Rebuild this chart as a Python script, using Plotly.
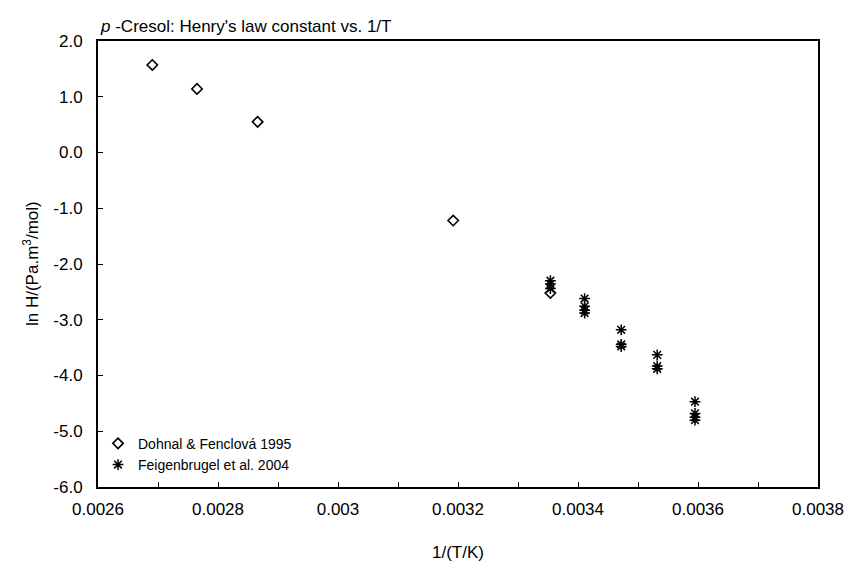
import plotly.graph_objects as go

# Dohnal & Fenclová 1995
dohnal_x = [0.0026905, 0.002765, 0.002866, 0.003192, 0.003354]
dohnal_y = [1.57, 1.14, 0.55, -1.22, -2.52]

# Feigenbrugel et al. 2004
feig_x = [0.003354, 0.003354, 0.003354,
          0.003411, 0.003411, 0.003411, 0.003411,
          0.003472, 0.003472, 0.003472,
          0.003532, 0.003532, 0.003532,
          0.003595, 0.003595, 0.003595, 0.003595]
feig_y = [-2.30, -2.36, -2.44,
          -2.62, -2.76, -2.83, -2.88,
          -3.18, -3.44, -3.48,
          -3.63, -3.83, -3.88,
          -4.47, -4.68, -4.75, -4.80]

x_ticks = [0.0026, 0.0028, 0.003, 0.0032, 0.0034, 0.0036, 0.0038]
x_tick_labels = ["0.0026", "0.0028", "0.003", "0.0032", "0.0034", "0.0036", "0.0038"]
y_ticks = [2, 1, 0, -1, -2, -3, -4, -5, -6]
y_tick_labels = ["2.0", "1.0", "0.0", "-1.0", "-2.0", "-3.0", "-4.0", "-5.0", "-6.0"]

FONT = "Liberation Sans, Arial, sans-serif"

fig = go.Figure()
fig.add_trace(go.Scatter(
    x=dohnal_x, y=dohnal_y, mode="markers", name="Dohnal & Fenclová 1995",
    marker=dict(symbol="diamond-open", size=8, color="black", line=dict(width=1.6, color="black")),
))
fig.add_trace(go.Scatter(
    x=feig_x, y=feig_y, mode="markers", name="Feigenbrugel et al. 2004",
    marker=dict(symbol="asterisk-open", size=9, color="black", line=dict(width=1.5, color="black")),
))

fig.update_layout(
    width=847, height=557,
    margin=dict(l=90, r=37, t=33, b=78, autoexpand=False),
    paper_bgcolor="white", plot_bgcolor="white",
    font=dict(family=FONT, size=17, color="black"),
    showlegend=True,
    legend=dict(x=0.0, y=0.014, xanchor="left", yanchor="bottom",
                bgcolor="rgba(0,0,0,0)", font=dict(size=14, family=FONT),
                itemwidth=30, tracegroupgap=0),
    annotations=[
        dict(text="<i>p</i> -Cresol: Henry's law constant vs. 1/T",
             xref="paper", yref="paper", x=0, y=1, xanchor="left", yanchor="bottom",
             yshift=3, showarrow=False, font=dict(size=17, family=FONT)),
        dict(text="1/(T/K)", xref="paper", yref="paper", x=0.5, y=0,
             xanchor="center", yanchor="middle", yshift=-65, showarrow=False,
             font=dict(size=17, family=FONT)),
        dict(text="ln H/(Pa.m<sup>3</sup>/mol)", xref="paper", yref="paper", x=0, y=0.5,
             xanchor="center", yanchor="middle", xshift=-67, textangle=-90, showarrow=False,
             font=dict(size=17, family=FONT)),
    ],
)

fig.update_xaxes(
    range=[0.0026, 0.0038], tickmode="array", tickvals=x_ticks, ticktext=x_tick_labels,
    ticks="inside", ticklen=5, tickwidth=1, tickcolor="black",
    minor=dict(dtick=0.0001, ticks="inside", ticklen=5, tickcolor="black", showgrid=False),
    showline=True, linecolor="black", linewidth=2, mirror=True,
    showgrid=False, zeroline=False, ticklabelstandoff=6, automargin=False,
    tickfont=dict(size=17, family=FONT),
)
fig.update_yaxes(
    range=[-6, 2], tickmode="array", tickvals=y_ticks, ticktext=y_tick_labels,
    ticks="inside", ticklen=5, tickwidth=1, tickcolor="black",
    showline=True, linecolor="black", linewidth=2, mirror=True,
    showgrid=False, zeroline=False, ticklabelstandoff=10, automargin=False,
    tickfont=dict(size=17, family=FONT),
)

fig.write_html("out.html")
